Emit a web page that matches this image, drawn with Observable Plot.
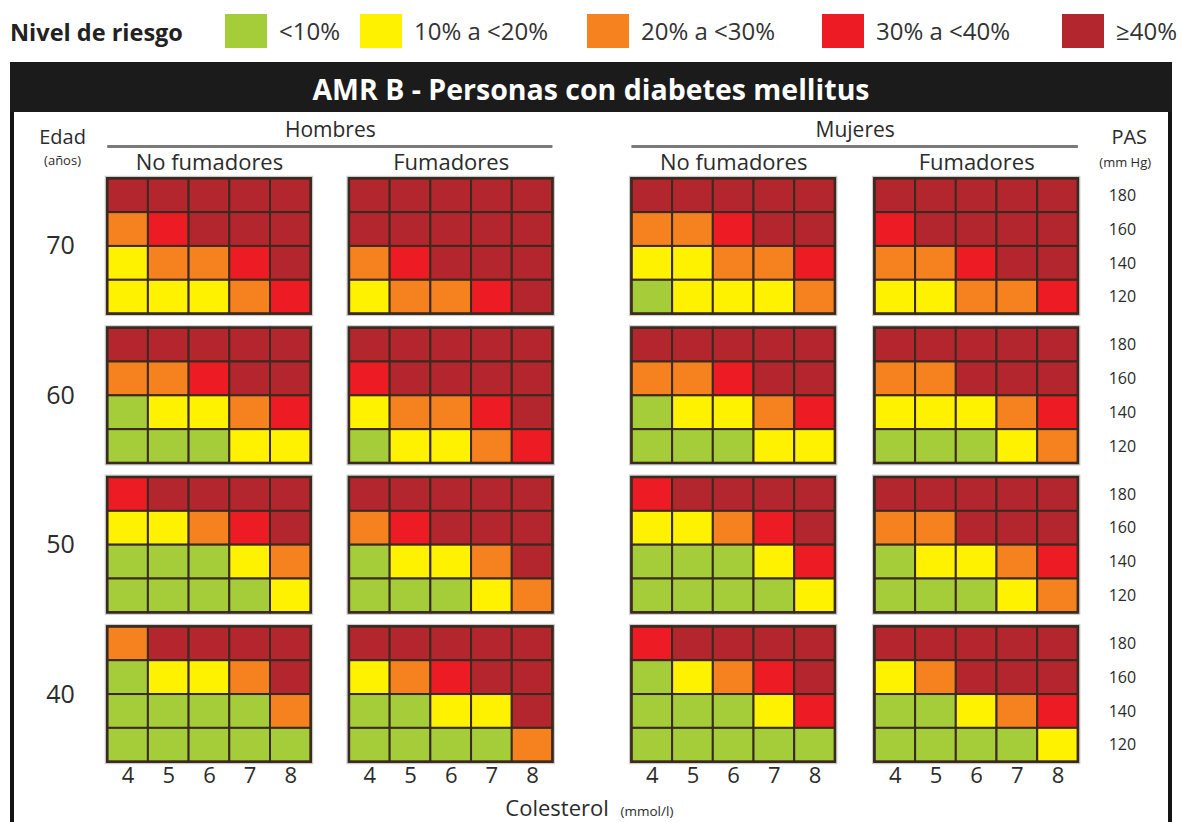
<!DOCTYPE html>
<html><head><meta charset="utf-8">
<script src="https://cdn.jsdelivr.net/npm/d3@7"></script>
<script src="https://cdn.jsdelivr.net/npm/@observablehq/plot@0.6"></script>
<style>
body{margin:0;background:#fff;font-family:"Open Sans",sans-serif;}
#page{position:relative;width:1181px;height:822px;overflow:hidden;background:#fff;}
.legtitle{position:absolute;left:10px;top:15px;font-weight:bold;font-size:23.5px;color:#222;line-height:34px;white-space:nowrap;}
.sw{position:absolute;top:14px;width:42px;height:34px;}
.lab{position:absolute;top:14px;font-size:24px;color:#333;line-height:34px;white-space:nowrap;}
#frame{position:absolute;left:10px;top:62px;width:1154px;height:800px;border-left:4px solid #141414;border-right:4px solid #141414;}
#titlebar{position:absolute;left:10px;top:62px;width:1162px;height:50px;background:#1b1b1b;color:#fff;font-weight:bold;font-size:28.5px;text-align:center;line-height:54px;white-space:nowrap;}
#chart{position:absolute;left:0;top:112px;}
</style></head>
<body>
<div id="page">
  <div id="legend"></div>
  <div id="frame"></div>
  <div id="titlebar"></div>
  <div id="chart"></div>
</div>
<script>
// ---------- data ----------
const chartTitle = "AMR B - Personas con diabetes mellitus";
const legendTitle = "Nivel de riesgo";
const ages = [70, 60, 50, 40];
const pasLevels = [180, 160, 140, 120];
const cholesterol = [4, 5, 6, 7, 8];
const sexes = ["Hombres", "Mujeres"];
const smoking = ["No fumadores", "Fumadores"];
const riskLabels = ["<10%", "10% a <20%", "20% a <30%", "30% a <40%", "≥40%"];
const riskColors = ["#a5cd39", "#fff200", "#f5821f", "#ed1c24", "#b3262d"];

// risk level index (0..4) per age block (70,60,50,40); rows = PAS 180..120; cols = colesterol 4..8
const hombresNoFumadores = [
  [[4,4,4,4,4],[2,3,4,4,4],[1,2,2,3,4],[1,1,1,2,3]],
  [[4,4,4,4,4],[2,2,3,4,4],[0,1,1,2,3],[0,0,0,1,1]],
  [[3,4,4,4,4],[1,1,2,3,4],[0,0,0,1,2],[0,0,0,0,1]],
  [[2,4,4,4,4],[0,1,1,2,4],[0,0,0,0,2],[0,0,0,0,0]]
];
const hombresFumadores = [
  [[4,4,4,4,4],[4,4,4,4,4],[2,3,4,4,4],[1,2,2,3,4]],
  [[4,4,4,4,4],[3,4,4,4,4],[1,2,2,3,4],[0,1,1,2,3]],
  [[4,4,4,4,4],[2,3,4,4,4],[0,1,1,2,4],[0,0,0,1,2]],
  [[4,4,4,4,4],[1,2,3,4,4],[0,0,1,1,4],[0,0,0,0,2]]
];
const mujeresNoFumadores = [
  [[4,4,4,4,4],[2,2,3,4,4],[1,1,2,2,3],[0,1,1,1,2]],
  [[4,4,4,4,4],[2,2,3,4,4],[0,1,1,2,3],[0,0,0,1,1]],
  [[3,4,4,4,4],[1,1,2,3,4],[0,0,0,1,3],[0,0,0,0,1]],
  [[3,4,4,4,4],[0,1,2,3,4],[0,0,0,1,3],[0,0,0,0,0]]
];
const mujeresFumadores = [
  [[4,4,4,4,4],[3,4,4,4,4],[2,2,3,4,4],[1,1,2,2,3]],
  [[4,4,4,4,4],[2,2,4,4,4],[1,1,1,2,3],[0,0,0,1,2]],
  [[4,4,4,4,4],[2,2,4,4,4],[0,1,1,2,3],[0,0,0,1,2]],
  [[4,4,4,4,4],[1,2,4,4,4],[0,0,1,2,3],[0,0,0,0,1]]
];

// ---------- layout (in cell units) ----------
const panelMatrices = [hombresNoFumadores, hombresFumadores, mujeresNoFumadores, mujeresFumadores];
const panelX = [0, 5.94, 12.88, 18.85];
const blockStep = 4.415;
const FONT = "Open Sans";
const INK = "#2b2b2b";

// legend (HTML)
const legend = document.getElementById("legend");
const lt = document.createElement("div"); lt.className = "legtitle"; lt.textContent = legendTitle; legend.appendChild(lt);
const swLeft = [225, 360, 587, 822, 1062];
riskLabels.forEach((lab, i) => {
  const s = document.createElement("div"); s.className = "sw";
  s.style.left = swLeft[i] + "px"; s.style.background = riskColors[i]; legend.appendChild(s);
  const t = document.createElement("div"); t.className = "lab";
  t.style.left = (swLeft[i] + 54) + "px"; t.textContent = lab; legend.appendChild(t);
});
document.getElementById("titlebar").textContent = chartTitle;

// cells
const cells = [];
panelMatrices.forEach((m, g) => {
  ages.forEach((age, a) => {
    pasLevels.forEach((pas, r) => {
      cholesterol.forEach((chol, c) => {
        cells.push({panel: g, age, pas, chol, level: m[a][r][c],
          x1: panelX[g] + c, x2: panelX[g] + c + 1,
          y1: a * blockStep + r, y2: a * blockStep + r + 1});
      });
    });
  });
});
const panels = [];
panelX.forEach((px, g) => ages.forEach((age, a) => panels.push({x1: px, x2: px + 5, y1: a * blockStep, y2: a * blockStep + 4})));

const ageLabels = ages.map((age, a) => ({text: String(age), x: -1.16, y: a * blockStep + 2}));
const pasLabels = [];
ages.forEach((age, a) => pasLevels.forEach((p, r) => pasLabels.push({text: String(p), x: 24.93, y: a * blockStep + r + 0.5})));
const cholLabels = [];
panelX.forEach(px => cholesterol.forEach((c, i) => cholLabels.push({text: String(c), x: px + i + 0.5, y: 17.64})));
const sexLabels = sexes.map((s, i) => ({text: s, x: (panelX[2 * i] + panelX[2 * i + 1] + 5) / 2, y: -1.43}));
const sexRules = sexes.map((s, i) => ({x1: panelX[2 * i], x2: panelX[2 * i + 1] + 5, y: -0.955}));
const smokeLabels = panelX.map((px, g) => ({text: smoking[g % 2], x: px + 2.5, y: -0.48}));

const plot = Plot.plot({
  width: 1181, height: 710,
  x: {domain: [0, 23.85], range: [107.2, 1077.9], axis: null},
  y: {domain: [0, 3 * blockStep + 4], range: [66.3, 649.7], axis: null},
  color: {type: "ordinal", domain: [0, 1, 2, 3, 4], range: riskColors},
  style: {background: "transparent", fontFamily: FONT},
  marks: [
    Plot.rect(panels, {x1: "x1", x2: "x2", y1: "y1", y2: "y2", fill: "none", stroke: "#999", strokeWidth: 5, strokeOpacity: 0.5}),
    Plot.rect(cells, {x1: "x1", x2: "x2", y1: "y1", y2: "y2", fill: "level", stroke: "#3a2a1f", strokeWidth: 2}),
    Plot.rect(panels, {x1: "x1", x2: "x2", y1: "y1", y2: "y2", fill: "none", stroke: "#3a2a1f", strokeWidth: 2.5}),
    Plot.ruleY(sexRules, {x1: "x1", x2: "x2", y: "y", stroke: "#7a7a7a", strokeWidth: 3}),
    Plot.text(sexLabels, {x: "x", y: "y", text: "text", fontSize: 21, fill: INK}),
    Plot.text(smokeLabels, {x: "x", y: "y", text: "text", fontSize: 22, fill: INK}),
    Plot.text(ageLabels, {x: "x", y: "y", text: "text", fontSize: 25, fill: INK}),
    Plot.text(pasLabels, {x: "x", y: "y", text: "text", fontSize: 16, fill: INK}),
    Plot.text(cholLabels, {x: "x", y: "y", text: "text", fontSize: 22, fill: INK}),
    Plot.text([{text: "Edad", x: -1.11, y: -1.22}], {x: "x", y: "y", text: "text", fontSize: 20, fill: INK}),
    Plot.text([{text: "(años)", x: -1.11, y: -0.54}], {x: "x", y: "y", text: "text", fontSize: 13, fill: INK}),
    Plot.text([{text: "PAS", x: 25.1, y: -1.22}], {x: "x", y: "y", text: "text", fontSize: 20, fill: INK}),
    Plot.text([{text: "(mm Hg)", x: 25.0, y: -0.48}], {x: "x", y: "y", text: "text", fontSize: 13, fill: INK}),
    Plot.text([{text: "Colesterol", x: 9.77, y: 18.62}], {x: "x", y: "y", text: "text", fontSize: 22, fill: INK, textAnchor: "start"}),
    Plot.text([{text: "(mmol/l)", x: 12.6, y: 18.7}], {x: "x", y: "y", text: "text", fontSize: 13.5, fill: INK, textAnchor: "start"})
  ]
});
document.getElementById("chart").appendChild(plot);
</script>
</body></html>
